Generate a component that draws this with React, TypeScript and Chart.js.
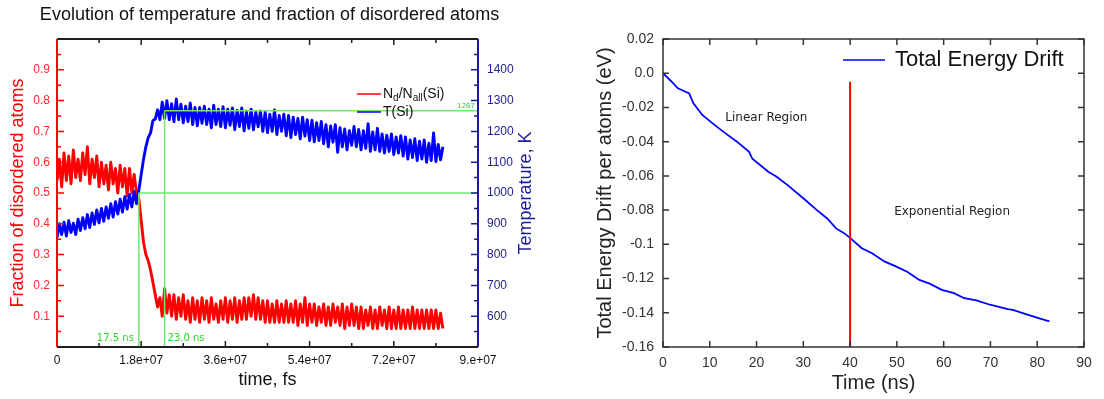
import React, { useEffect, useRef } from 'react';
import { Chart, registerables } from 'chart.js';

Chart.register(...registerables);

const SANS = '"Liberation Sans", Arial, Helvetica, sans-serif';
const DEJAVU = '"DejaVu Sans", Verdana, sans-serif';
const RED = '#ff0000';
const BLUE = '#0000ff';
const NAVY = '#1c1c96';
const AXIS_DARK = '#1e1e1e';
const GREEN_LINE = '#6fe86f';
const GREEN_TEXT = '#22dd22';

// ---------------- Left panel data ----------------
const leftTitle = 'Evolution of temperature and fraction of disordered atoms';
const SAMPLE_STEP_FS = 5e5; // one sample every 0.5 ns (in fs)

const disorderedFraction = [
  0.54, 0.61, 0.52, 0.63, 0.54, 0.62, 0.53, 0.64, 0.55, 0.61,
  0.54, 0.63, 0.56, 0.65, 0.53, 0.61, 0.55, 0.62, 0.52, 0.60,
  0.53, 0.59, 0.51, 0.60, 0.53, 0.58, 0.50, 0.59, 0.52, 0.58,
  0.49, 0.58, 0.50, 0.56, 0.50, 0.48, 0.41, 0.34, 0.30, 0.28,
  0.25, 0.21, 0.17, 0.13, 0.16, 0.10, 0.19, 0.11, 0.17, 0.10,
  0.17, 0.09, 0.16, 0.10, 0.17, 0.09, 0.15, 0.08, 0.16, 0.09,
  0.15, 0.08, 0.16, 0.09, 0.15, 0.08, 0.16, 0.09, 0.14, 0.08,
  0.15, 0.09, 0.16, 0.08, 0.15, 0.09, 0.16, 0.08, 0.15, 0.09,
  0.16, 0.09, 0.16, 0.10, 0.17, 0.09, 0.16, 0.09, 0.15, 0.08,
  0.15, 0.08, 0.14, 0.08, 0.15, 0.08, 0.14, 0.08, 0.15, 0.08,
  0.14, 0.08, 0.15, 0.07, 0.14, 0.08, 0.16, 0.07, 0.14, 0.08,
  0.14, 0.07, 0.13, 0.08, 0.14, 0.07, 0.13, 0.07, 0.14, 0.08,
  0.13, 0.07, 0.14, 0.06, 0.13, 0.07, 0.14, 0.07, 0.13, 0.06,
  0.13, 0.06, 0.12, 0.07, 0.13, 0.06, 0.12, 0.06, 0.13, 0.07,
  0.12, 0.06, 0.13, 0.06, 0.12, 0.06, 0.13, 0.06, 0.12, 0.06,
  0.12, 0.06, 0.13, 0.06, 0.12, 0.06, 0.12, 0.06, 0.12, 0.06,
  0.12, 0.06, 0.12, 0.06, 0.11, 0.06,
];

const temperatureK = [
  855, 900, 865, 905, 860, 910, 872, 902, 865, 915,
  878, 920, 884, 930, 888, 935, 898, 945, 903, 950,
  908, 955, 918, 965, 922, 972, 932, 980, 938, 988,
  948, 995, 955, 1005, 965, 1010, 1060, 1110, 1150, 1180,
  1195, 1235, 1240, 1270, 1238, 1295, 1242, 1300, 1238, 1290,
  1232, 1305, 1238, 1288, 1228, 1282, 1232, 1292, 1222, 1278,
  1218, 1278, 1226, 1282, 1222, 1272, 1212, 1285, 1222, 1272,
  1216, 1280, 1212, 1272, 1220, 1276, 1206, 1268, 1216, 1276,
  1202, 1266, 1210, 1272, 1205, 1262, 1215, 1266, 1200, 1262,
  1196, 1256, 1200, 1270, 1190, 1252, 1200, 1256, 1186, 1252,
  1180, 1246, 1190, 1242, 1176, 1246, 1185, 1238, 1170, 1236,
  1166, 1228, 1170, 1232, 1160, 1222, 1150, 1218, 1165, 1222,
  1132, 1212, 1150, 1208, 1140, 1202, 1155, 1216, 1150, 1206,
  1140, 1202, 1145, 1225, 1135, 1198, 1140, 1210, 1135, 1192,
  1130, 1188, 1135, 1192, 1125, 1182, 1130, 1186, 1120, 1182,
  1110, 1172, 1115, 1176, 1105, 1168, 1110, 1172, 1100, 1162,
  1105, 1195, 1102, 1158, 1108, 1150,
];

const onsetTimeFs = 1.75e7;
const plateauTimeFs = 2.3e7;
const thresholdFraction = 0.5;
const plateauTempK = 1267;
const timeAxisMaxFs = 9e7;

const timeTickLabels = ['0', '1.8e+07', '3.6e+07', '5.4e+07', '7.2e+07', '9.e+07'];
const fractionTickLabels = ['', '0.1', '0.2', '0.3', '0.4', '0.5', '0.6', '0.7', '0.8', '0.9', ''];
const temperatureTickLabels = ['', '600', '700', '800', '900', '1000', '1100', '1200', '1300', '1400', ''];

const fractionLegend = [
  { text: 'N' }, { text: 'd', sub: true }, { text: '/N' }, { text: 'all', sub: true }, { text: '(Si)' },
];
const temperatureLegend = [{ text: 'T(Si)' }];

// ---------------- Right panel data ----------------
const driftTimeNs = [
  0, 1.9, 3.2, 4.7, 5.6, 6.5, 8.4, 10.6, 12.8, 15.8, 18.4, 19.1, 22.5, 24.3, 26.9,
  30.3, 32.9, 35.1, 37.0, 38.8, 40.1, 42.5, 44.7, 47.3, 49.9, 52.2, 54.8, 57.0,
  59.6, 62.2, 64.4, 67.0, 69.9, 73.7, 74.8, 77.4, 80.3, 82.6,
];
const driftEv = [
  0, -0.005, -0.0088, -0.0107, -0.0118, -0.0176, -0.0244, -0.0293, -0.034, -0.040, -0.046, -0.050, -0.0576, -0.0605, -0.066,
  -0.0738, -0.080, -0.0849, -0.0907, -0.0936, -0.0965, -0.1023, -0.1052, -0.110, -0.113, -0.116, -0.1208, -0.123,
  -0.1266, -0.1285, -0.1315, -0.1328, -0.1353, -0.1379, -0.1383, -0.1406, -0.1431, -0.145,
];
const splitTimeNs = 40;
const splitLineEv = [-0.16, -0.005];

const nsTickLabels = ['0', '10', '20', '30', '40', '50', '60', '70', '80', '90'];
const driftTickLabels = ['-0.16', '-0.14', '-0.12', '-0.1', '-0.08', '-0.06', '-0.04', '-0.02', '0.0', '0.02'];

const regionLabels = ['Linear Region', 'Exponential Region'];
const regionAnchorNs = [22.1, 61.8];
const regionAnchorEv = [-0.026, -0.081];

// ---------------- helpers ----------------
function strokeLine(ctx: CanvasRenderingContext2D, x1: number, y1: number, x2: number, y2: number) {
  ctx.beginPath();
  ctx.moveTo(x1, y1);
  ctx.lineTo(x2, y2);
  ctx.stroke();
}

function tickValues(scale: any) {
  const major: number[] = scale.ticks.map((t: any) => t.value);
  const minor: number[] = [];
  for (let i = 0; i < major.length - 1; i++) minor.push((major[i] + major[i + 1]) / 2);
  return { major, minor };
}

function drawTicks(ctx: CanvasRenderingContext2D, scale: any, a: any, side: string, values: number[], len: number) {
  ctx.beginPath();
  values.forEach((v) => {
    const p = scale.getPixelForValue(v);
    if (side === 'bottom') { ctx.moveTo(p, a.bottom); ctx.lineTo(p, a.bottom - len); }
    else if (side === 'top') { ctx.moveTo(p, a.top); ctx.lineTo(p, a.top + len); }
    else if (side === 'left') { ctx.moveTo(a.left, p); ctx.lineTo(a.left + len, p); }
    else { ctx.moveTo(a.right, p); ctx.lineTo(a.right - len, p); }
  });
  ctx.stroke();
}

function drawRichText(ctx: CanvasRenderingContext2D, segs: { text: string; sub?: boolean }[], x: number, y: number, size: number) {
  let cx = x;
  ctx.textAlign = 'left';
  ctx.textBaseline = 'middle';
  segs.forEach((s) => {
    ctx.font = `${s.sub ? Math.round(size * 0.72) : size}px ${SANS}`;
    ctx.fillText(s.text, cx, s.sub ? y + 4 : y);
    cx += ctx.measureText(s.text).width;
  });
}

const leftPanelDecor = {
  id: 'leftPanelDecor',
  afterDatasetsDraw(chart: any) {
    const { ctx, chartArea: a, scales } = chart;
    const sx = scales.x, sy = scales.y, sy2 = scales.y2;
    ctx.save();
    ctx.lineCap = 'butt';
    ctx.lineWidth = 1.5;
    const xt = tickValues(sx);
    ctx.strokeStyle = AXIS_DARK;
    drawTicks(ctx, sx, a, 'bottom', xt.major, 6);
    drawTicks(ctx, sx, a, 'bottom', xt.minor, 4);
    drawTicks(ctx, sx, a, 'top', xt.major, 6);
    drawTicks(ctx, sx, a, 'top', xt.minor, 4);
    const yt = tickValues(sy);
    ctx.strokeStyle = RED;
    drawTicks(ctx, sy, a, 'left', yt.major, 7);
    drawTicks(ctx, sy, a, 'left', yt.minor, 4);
    const y2t = tickValues(sy2);
    ctx.strokeStyle = NAVY;
    drawTicks(ctx, sy2, a, 'right', y2t.major, 7);
    drawTicks(ctx, sy2, a, 'right', y2t.minor, 4);

    ctx.lineWidth = 2;
    ctx.strokeStyle = AXIS_DARK;
    strokeLine(ctx, a.left, a.top, a.right, a.top);
    strokeLine(ctx, a.left, a.bottom, a.right, a.bottom);
    ctx.strokeStyle = RED;
    strokeLine(ctx, a.left, a.top, a.left, a.bottom);
    ctx.strokeStyle = NAVY;
    strokeLine(ctx, a.right, a.top, a.right, a.bottom);

    // marker labels
    ctx.fillStyle = GREEN_TEXT;
    ctx.textBaseline = 'middle';
    ctx.font = `10px ${DEJAVU}`;
    ctx.textAlign = 'right';
    ctx.fillText(`${(onsetTimeFs / 1e6).toFixed(1)} ns`, sx.getPixelForValue(onsetTimeFs) - 5, a.bottom - 9);
    ctx.textAlign = 'left';
    ctx.fillText(`${(plateauTimeFs / 1e6).toFixed(1)} ns`, sx.getPixelForValue(plateauTimeFs) + 3, a.bottom - 9);
    ctx.font = `7px ${DEJAVU}`;
    ctx.textAlign = 'right';
    ctx.fillText(String(plateauTempK), a.right - 3, sy2.getPixelForValue(plateauTempK) - 5);

    // legend
    const ds = chart.data.datasets;
    const rows = [
      { segs: fractionLegend, color: ds[0].borderColor, y: a.top + 55 },
      { segs: temperatureLegend, color: ds[1].borderColor, y: a.top + 73 },
    ];
    rows.forEach((r) => {
      ctx.strokeStyle = r.color;
      ctx.lineWidth = 1.5;
      strokeLine(ctx, a.right - 121, r.y, a.right - 97, r.y);
      ctx.fillStyle = '#111';
      drawRichText(ctx, r.segs, a.right - 95, r.y, 14);
    });

    // chart title
    ctx.fillStyle = '#111';
    ctx.font = `18px ${SANS}`;
    ctx.textAlign = 'center';
    ctx.textBaseline = 'middle';
    ctx.fillText(leftTitle, (a.left + a.right) / 2 + 2, 15);

    // right axis title (reads bottom to top)
    ctx.save();
    ctx.translate(a.right + 48, (a.top + a.bottom) / 2);
    ctx.rotate(-Math.PI / 2);
    ctx.fillStyle = NAVY;
    ctx.font = `18px ${SANS}`;
    ctx.textAlign = 'center';
    ctx.textBaseline = 'middle';
    ctx.fillText('Temperature, K', 0, 0);
    ctx.restore();
    ctx.restore();
  },
};

const rightPanelDecor = {
  id: 'rightPanelDecor',
  afterDatasetsDraw(chart: any) {
    const { ctx, chartArea: a, scales } = chart;
    const sx = scales.x, sy = scales.y;
    ctx.save();
    ctx.strokeStyle = '#333';
    ctx.lineWidth = 1.5;
    const xt = tickValues(sx);
    const yt = tickValues(sy);
    drawTicks(ctx, sx, a, 'bottom', xt.major, 6);
    drawTicks(ctx, sx, a, 'top', xt.major, 6);
    drawTicks(ctx, sy, a, 'left', yt.major, 6);
    drawTicks(ctx, sy, a, 'right', yt.major, 6);
    ctx.strokeRect(a.left, a.top, a.right - a.left, a.bottom - a.top);

    // legend
    const ds = chart.data.datasets;
    const ly = a.top + 21;
    ctx.strokeStyle = ds[1].borderColor;
    ctx.lineWidth = 1.5;
    strokeLine(ctx, a.right - 241, ly, a.right - 199, ly);
    ctx.fillStyle = '#111';
    ctx.font = `22px ${SANS}`;
    ctx.textAlign = 'left';
    ctx.textBaseline = 'middle';
    ctx.fillText(ds[1].label, a.right - 189, ly);

    // region notes
    ctx.font = `12px ${DEJAVU}`;
    ctx.textAlign = 'center';
    ctx.fillStyle = '#222';
    regionLabels.forEach((t, i) => {
      ctx.fillText(t, sx.getPixelForValue(regionAnchorNs[i]), sy.getPixelForValue(regionAnchorEv[i]));
    });
    ctx.restore();
  },
};

const noGrid = { display: false, drawTicks: false };

export default function App() {
  const leftRef = useRef<HTMLCanvasElement | null>(null);
  const rightRef = useRef<HTMLCanvasElement | null>(null);

  useEffect(() => {
    const timeOf = (i: number) => i * SAMPLE_STEP_FS;
    const left = new Chart(leftRef.current as HTMLCanvasElement, {
      type: 'line',
      data: {
        datasets: [
          {
            label: 'Nd/Nall(Si)',
            data: disorderedFraction.map((v, i) => ({ x: timeOf(i), y: v })),
            borderColor: RED,
            borderWidth: 2.9,
            yAxisID: 'y',
            order: 2,
          },
          {
            label: 'T(Si)',
            data: temperatureK.map((v, i) => ({ x: timeOf(i), y: v })),
            borderColor: BLUE,
            borderWidth: 2.9,
            yAxisID: 'y2',
            order: 1,
          },
          {
            label: 'onset',
            data: [{ x: onsetTimeFs, y: 0 }, { x: onsetTimeFs, y: thresholdFraction }],
            borderColor: GREEN_LINE,
            borderWidth: 1.5,
            yAxisID: 'y',
            order: 0,
          },
          {
            label: 'threshold',
            data: [{ x: onsetTimeFs, y: thresholdFraction }, { x: timeAxisMaxFs, y: thresholdFraction }],
            borderColor: GREEN_LINE,
            borderWidth: 1.5,
            yAxisID: 'y',
            order: 0,
          },
          {
            label: 'plateau',
            data: [{ x: plateauTimeFs, y: 500 }, { x: plateauTimeFs, y: plateauTempK }],
            borderColor: GREEN_LINE,
            borderWidth: 1.5,
            yAxisID: 'y2',
            order: 0,
          },
          {
            label: 'plateauTemp',
            data: [{ x: plateauTimeFs, y: plateauTempK }, { x: timeAxisMaxFs, y: plateauTempK }],
            borderColor: GREEN_LINE,
            borderWidth: 1.5,
            yAxisID: 'y2',
            order: 0,
          },
        ],
      },
      options: {
        responsive: false,
        devicePixelRatio: 1,
        animation: false,
        events: [],
        layout: { padding: { top: 39, left: 0, right: 0, bottom: 0 } },
        elements: { point: { radius: 0 }, line: { tension: 0, borderJoinStyle: 'round' } },
        plugins: { legend: { display: false }, tooltip: { enabled: false }, title: { display: false } },
        scales: {
          x: {
            type: 'linear',
            min: 0,
            max: timeAxisMaxFs,
            grid: noGrid,
            border: { display: false },
            afterFit: (s: any) => { s.height = 52; },
            ticks: {
              stepSize: 1.8e7,
              autoSkip: false,
              maxRotation: 0,
              padding: 6,
              color: '#111',
              font: { family: SANS, size: 12 },
              callback: (_v: any, i: number) => timeTickLabels[i] ?? '',
            },
            title: {
              display: true,
              text: 'time, fs',
              color: '#111',
              font: { family: SANS, size: 18 },
              padding: { top: 0, bottom: 8 },
            },
          },
          y: {
            type: 'linear',
            position: 'left',
            min: 0,
            max: 1,
            grid: noGrid,
            border: { display: false },
            afterFit: (s: any) => { s.width = 57; },
            ticks: {
              stepSize: 0.1,
              padding: 7,
              color: '#ff2a2a',
              font: { family: SANS, size: 12 },
              callback: (_v: any, i: number) => fractionTickLabels[i] ?? '',
            },
            title: {
              display: true,
              text: 'Fraction of disordered atoms',
              color: RED,
              font: { family: SANS, size: 18 },
              padding: { top: 7, bottom: 0 },
            },
          },
          y2: {
            type: 'linear',
            position: 'right',
            min: 500,
            max: 1500,
            grid: noGrid,
            border: { display: false },
            afterFit: (s: any) => { s.width = 82; },
            ticks: {
              stepSize: 100,
              padding: 9,
              color: NAVY,
              font: { family: SANS, size: 12 },
              callback: (_v: any, i: number) => temperatureTickLabels[i] ?? '',
            },
          },
        },
      },
      plugins: [leftPanelDecor],
    } as any);

    const right = new Chart(rightRef.current as HTMLCanvasElement, {
      type: 'line',
      data: {
        datasets: [
          {
            label: 'split',
            data: splitLineEv.map((v) => ({ x: splitTimeNs, y: v })),
            borderColor: RED,
            borderWidth: 2,
            order: 0,
          },
          {
            label: 'Total Energy Drift',
            data: driftTimeNs.map((t, i) => ({ x: t, y: driftEv[i] })),
            borderColor: BLUE,
            borderWidth: 1.8,
            order: 1,
          },
        ],
      },
      options: {
        responsive: false,
        devicePixelRatio: 1,
        animation: false,
        events: [],
        layout: { padding: { top: 39, left: 0, right: 20, bottom: 0 } },
        elements: { point: { radius: 0 }, line: { tension: 0 } },
        plugins: { legend: { display: false }, tooltip: { enabled: false }, title: { display: false } },
        scales: {
          x: {
            type: 'linear',
            min: 0,
            max: 90,
            grid: noGrid,
            border: { display: false },
            afterFit: (s: any) => { s.height = 52; },
            ticks: {
              stepSize: 10,
              autoSkip: false,
              maxRotation: 0,
              padding: 8,
              color: '#333',
              font: { family: SANS, size: 14 },
              callback: (_v: any, i: number) => nsTickLabels[i] ?? '',
            },
            title: {
              display: true,
              text: 'Time (ns)',
              color: '#222',
              font: { family: SANS, size: 20 },
              padding: { top: 0, bottom: 4 },
            },
          },
          y: {
            type: 'linear',
            min: -0.16,
            max: 0.02,
            grid: noGrid,
            border: { display: false },
            afterFit: (s: any) => { s.width = 103; },
            ticks: {
              stepSize: 0.02,
              padding: 9,
              color: '#333',
              font: { family: SANS, size: 14 },
              callback: (_v: any, i: number) => driftTickLabels[i] ?? '',
            },
            title: {
              display: true,
              text: 'Total Energy Drift per atoms (eV)',
              color: '#222',
              font: { family: SANS, size: 20 },
              padding: { top: 33, bottom: 0 },
            },
          },
        },
      },
      plugins: [rightPanelDecor],
    } as any);

    return () => {
      left.destroy();
      right.destroy();
    };
  }, []);

  return (
    <div style={{ position: 'fixed', left: 0, top: 0, width: 1104, height: 399, background: '#ffffff' }}>
      <canvas ref={leftRef} width={560} height={399} style={{ position: 'absolute', left: 0, top: 0, width: 560, height: 399 }} />
      <canvas ref={rightRef} width={544} height={399} style={{ position: 'absolute', left: 560, top: 0, width: 544, height: 399 }} />
    </div>
  );
}
